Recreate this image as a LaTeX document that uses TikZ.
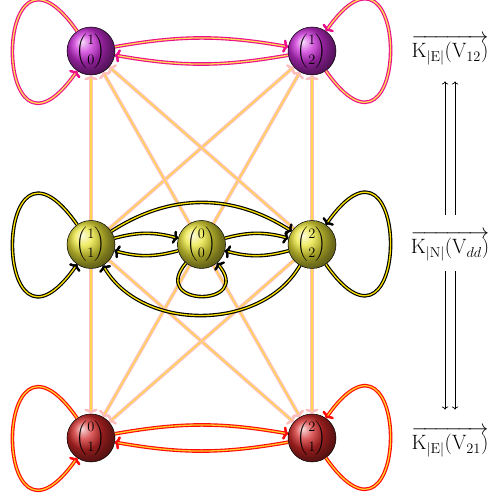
\documentclass[tikz,border=0pt]{standalone}
\usepackage{amsmath}
\usetikzlibrary{arrows.meta,backgrounds}
\definecolor{topc}{rgb}{0.8,0.18,0.85}
\definecolor{midc}{rgb}{0.92,0.9,0.22}
\definecolor{botc}{rgb}{0.82,0.16,0.16}
\definecolor{hotpink}{RGB}{235,15,140}
\definecolor{inyel}{RGB}{255,220,80}
\definecolor{crosspink}{RGB}{255,190,190}
\definecolor{crossyel}{RGB}{255,215,80}
\definecolor{midyel}{RGB}{250,225,0}
\definecolor{botred}{RGB}{255,10,10}
\definecolor{botyel}{RGB}{255,205,40}
\tikzset{
  ballnode/.style={circle,draw=black,line width=0.5pt,minimum size=48pt,inner sep=0pt,font=\fontsize{14}{16}\selectfont},
  topball/.style={ballnode,ball color=topc},
  midball/.style={ballnode,ball color=midc},
  botball/.style={ballnode,ball color=botc},
  dbl/.style 2 args={draw=#1,line width=3.6pt,
      -{To[length=5pt,width=13pt,line width=2.2pt]},
      postaction={draw=#2,line width=1.3pt,
        -{To[length=5pt,width=13pt,line width=2.2pt,color=#1]}}},
  topedge/.style={dbl={hotpink}{inyel}},
  midedge/.style={dbl={black}{midyel}},
  botedge/.style={dbl={botred}{botyel}},
  crossedge/.style={dbl={crosspink}{crossyel}},
  lbl/.style={inner sep=0pt,font=\fontsize{20}{24}\selectfont},
  thinarrow/.style={-{To[]},line width=0.7pt,black}
}
\begin{document}
\begin{tikzpicture}[x=1pt,y=1pt]
\useasboundingbox (0,0) rectangle (491,500);
% balls
\node[topball] (A10) at (91,449) {$\dbinom{1}{0}$};
\node[topball] (A12) at (312,449) {$\dbinom{1}{2}$};
\node[midball] (A11) at (91,255.5) {$\dbinom{1}{1}$};
\node[midball] (A00) at (201.5,255.5) {$\dbinom{0}{0}$};
\node[midball] (A22) at (312,255.5) {$\dbinom{2}{2}$};
\node[botball] (A01) at (91,62) {$\dbinom{0}{1}$};
\node[botball] (A21) at (312,62) {$\dbinom{2}{1}$};
% cross edges
\begin{scope}[on background layer]
\foreach \s in {A11,A00,A22}{
  \foreach \t in {A10,A12,A01,A21}{
    \draw[crossedge] (\s) -- (\t);
  }
}
\end{scope}
% top edges
\draw[topedge] (A10) to[bend left=10] (A12);
\draw[topedge] (A12) to[bend left=10] (A10);
\draw[topedge] (A10.125) .. controls +(125:150) and +(-125:150) .. (A10.-125);
\draw[topedge] (A12.-55) .. controls +(-55:150) and +(55:150) .. (A12.55);
% bottom edges
\draw[botedge] (A01) to[bend left=10] (A21);
\draw[botedge] (A21) to[bend left=10] (A01);
\draw[botedge] (A01.125) .. controls +(125:150) and +(-125:150) .. (A01.-125);
\draw[botedge] (A21.-55) .. controls +(-55:150) and +(55:150) .. (A21.55);
% middle edges
\draw[midedge] (A11) to[bend left=15] (A00);
\draw[midedge] (A00) to[bend left=15] (A11);
\draw[midedge] (A00) to[bend left=15] (A22);
\draw[midedge] (A22) to[bend left=15] (A00);
\draw[midedge] (A11) to[out=33,in=147] (A22);
\draw[midedge] (A22) to[out=-120,in=-60] (A11);
\draw[midedge] (A11.125) .. controls +(125:150) and +(-125:150) .. (A11.-125);
\draw[midedge] (A22.-55) .. controls +(-55:150) and +(55:150) .. (A22.55);
\draw[midedge] (A00.-130) .. controls +(-130:58) and +(-50:58) .. (A00.-50);
% labels
\node[lbl] (L1) at (450,450) {$\overrightarrow{\mathrm{K}_{|\mathrm{E}|}(\mathrm{V}_{12})}$};
\node[lbl] (L2) at (450,254) {$\overrightarrow{\mathrm{K}_{|\mathrm{N}|}(\mathrm{V}_{dd})}$};
\node[lbl] (L3) at (450,58) {$\overrightarrow{\mathrm{K}_{|\mathrm{E}|}(\mathrm{V}_{21})}$};
\draw[thinarrow,shorten <=16pt,shorten >=16pt] ([xshift=-5pt]L2.north) -- ([xshift=-5pt]L2.north |- L1.south);
\draw[thinarrow,shorten <=16pt,shorten >=16pt] ([xshift=5pt]L2.north) -- ([xshift=5pt]L2.north |- L1.south);
\draw[thinarrow,shorten <=10pt,shorten >=17pt] ([xshift=-5pt]L2.south) -- ([xshift=-5pt]L2.south |- L3.north);
\draw[thinarrow,shorten <=10pt,shorten >=17pt] ([xshift=5pt]L2.south) -- ([xshift=5pt]L2.south |- L3.north);
\end{tikzpicture}
\end{document}
